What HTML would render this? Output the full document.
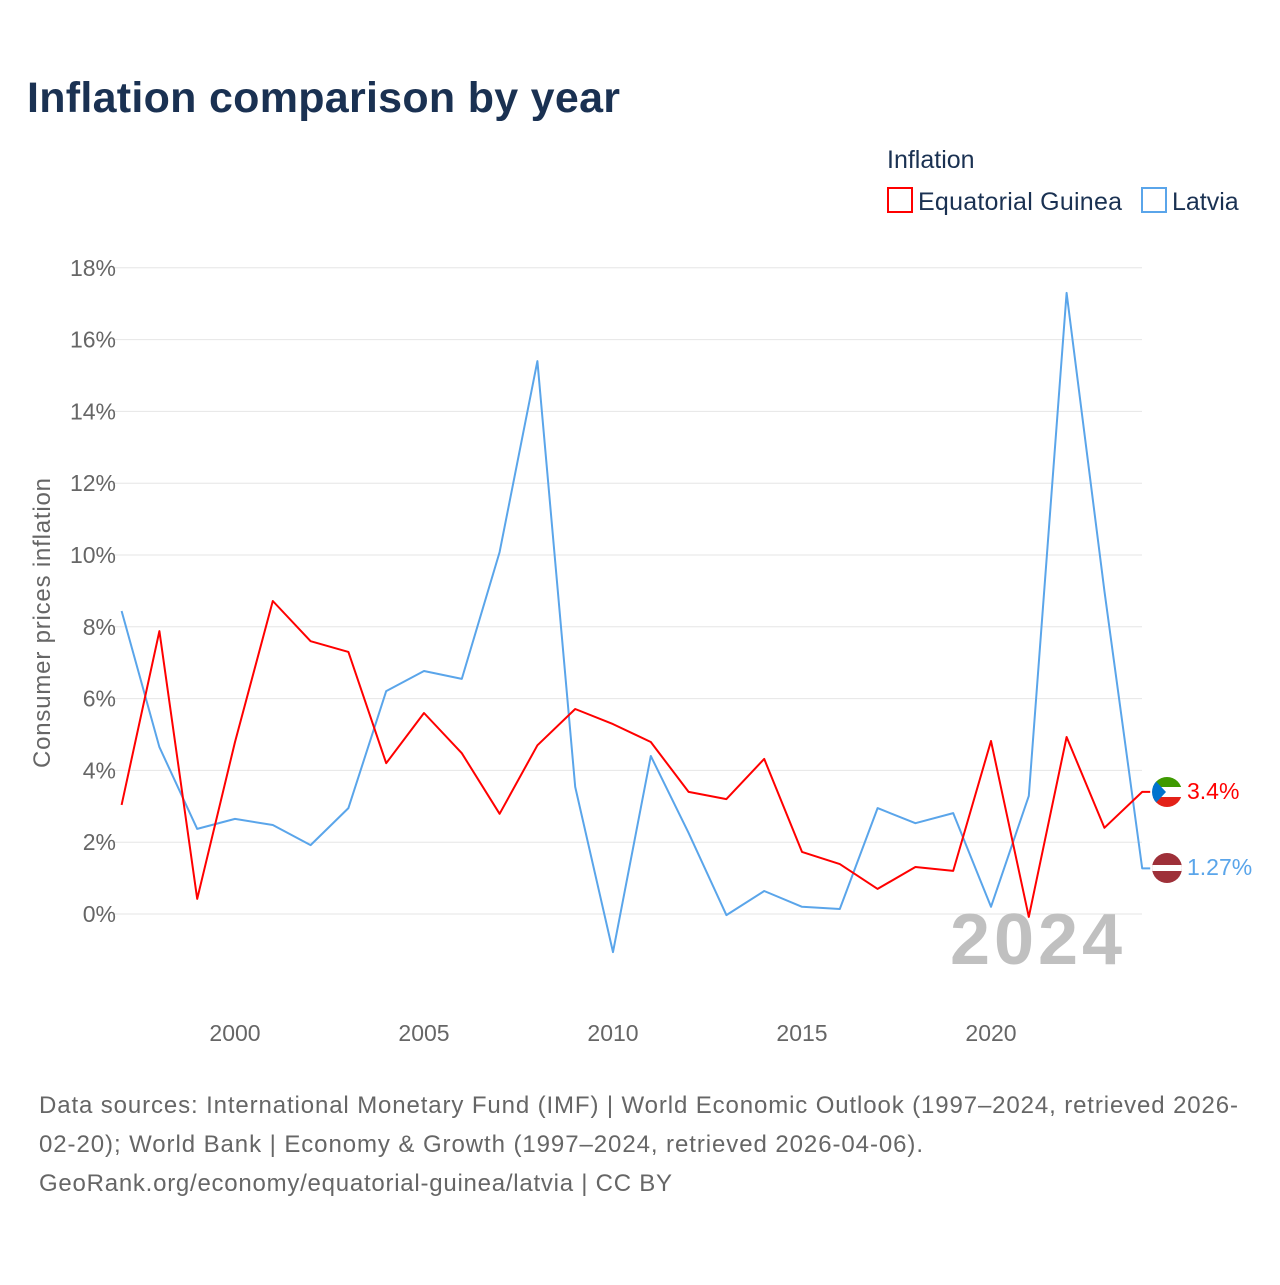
<!DOCTYPE html>
<html><head><meta charset="utf-8"><style>
body{margin:0;background:#fff;font-family:"Liberation Sans",sans-serif;}
</style></head><body>
<svg width="1280" height="1280" xmlns="http://www.w3.org/2000/svg" font-family="Liberation Sans, sans-serif">
<text x="27" y="112" font-size="43" font-weight="bold" fill="#1a3152" textLength="593">Inflation comparison by year</text>
<text x="887" y="168" font-size="25" fill="#1a3152">Inflation</text>
<g><rect x="888" y="188" width="24" height="24" fill="none" stroke="#ff0000" stroke-width="2"/><text x="918" y="210" font-size="25" fill="#1a3152" textLength="204">Equatorial Guinea</text></g>
<g><rect x="1142" y="188" width="24" height="24" fill="none" stroke="#5aa5ea" stroke-width="2"/><text x="1172" y="210" font-size="25" fill="#1a3152">Latvia</text></g>
<g id="grid"></g><g id="yt"></g><g id="xt"></g>
<text transform="translate(50,623) rotate(-90)" text-anchor="middle" font-size="24" fill="#666" textLength="290">Consumer prices inflation</text>
<text x="1122" y="964" text-anchor="end" font-size="72" font-weight="bold" fill="#c0c0c0" textLength="172">2024</text>
<g id="lines"></g>
<g>
<clipPath id="c1"><circle cx="1167" cy="792" r="15"/></clipPath>
<g clip-path="url(#c1)"><rect x="1152" y="777" width="30" height="10" fill="#3e9a00"/><rect x="1152" y="787" width="30" height="10" fill="#fff"/><rect x="1152" y="797" width="30" height="10" fill="#e32118"/><polygon points="1152,777 1166,792 1152,807" fill="#0073ce"/></g></g>
<g>
<clipPath id="c2"><circle cx="1167" cy="868" r="15"/></clipPath>
<g clip-path="url(#c2)"><rect x="1152" y="853" width="30" height="30" fill="#9e3039"/><rect x="1152" y="865" width="30" height="6" fill="#fff"/></g></g>
<text x="1187" y="799" font-size="23" fill="#ff0000">3.4%</text>
<text x="1187" y="875" font-size="23" fill="#5aa5ea">1.27%</text>
<text font-size="24" fill="#666"><tspan x="39" y="1113" textLength="1199">Data sources: International Monetary Fund (IMF) | World Economic Outlook (1997–2024, retrieved 2026-</tspan><tspan x="39" y="1152" textLength="884">02-20); World Bank | Economy &amp; Growth (1997–2024, retrieved 2026-04-06).</tspan><tspan x="39" y="1191" textLength="633">GeoRank.org/economy/equatorial-guinea/latvia | CC BY</tspan></text>
</svg>
<script>
const years=[1997,1998,1999,2000,2001,2002,2003,2004,2005,2006,2007,2008,2009,2010,2011,2012,2013,2014,2015,2016,2017,2018,2019,2020,2021,2022,2023,2024];
const eqGuinea=[3.04,7.88,0.42,4.79,8.72,7.6,7.3,4.2,5.6,4.48,2.79,4.7,5.71,5.29,4.79,3.4,3.2,4.32,1.73,1.39,0.7,1.31,1.2,4.82,-0.08,4.93,2.4,3.4];
const latvia=[8.44,4.65,2.37,2.65,2.48,1.92,2.95,6.21,6.77,6.55,10.08,15.4,3.54,-1.06,4.4,2.26,-0.03,0.64,0.2,0.14,2.95,2.53,2.81,0.2,3.29,17.3,9.0,1.27];
const yTicks=[0,2,4,6,8,10,12,14,16,18];
const xTicks=[2000,2005,2010,2015,2020];
const NS="http://www.w3.org/2000/svg";
const X=y=>121.6+(y-1997)*37.8, Y=v=>914-35.9*v;
function mk(t,a,p){const e=document.createElementNS(NS,t);for(const k in a)e.setAttribute(k,a[k]);p.appendChild(e);return e;}
const g=document.getElementById('grid'),yt=document.getElementById('yt'),xt=document.getElementById('xt'),ln=document.getElementById('lines');
yTicks.forEach(v=>{
 const l=mk('line',{x1:112,x2:1142,y1:Y(v),y2:Y(v),stroke:'#e6e6e6','stroke-width':1},g);
 
 
 const t=mk('text',{x:116,y:Y(v)+8,'text-anchor':'end','font-size':23,fill:'#666'},yt);t.textContent=v+'%';
 
 
});
xTicks.forEach(v=>{
 const t=mk('text',{x:X(v),y:1041,'text-anchor':'middle','font-size':23,fill:'#666'},xt);t.textContent=v;
 
 
});
function series(vals,color,name){
 let d=vals.map((v,i)=>(i?'L':'M')+X(years[i]).toFixed(1)+','+Y(v).toFixed(1)).join(' ');
 d+=' L'+(X(years[years.length-1])+8)+','+Y(vals[vals.length-1]).toFixed(1);
 const p=mk('path',{d:d,fill:'none',stroke:color,'stroke-width':2,'stroke-linejoin':'round'},ln);
 
 
}
series(latvia,'#5aa5ea','line-latvia');
series(eqGuinea,'#ff0000','line-equatorial-guinea');
</script>
</body></html>
